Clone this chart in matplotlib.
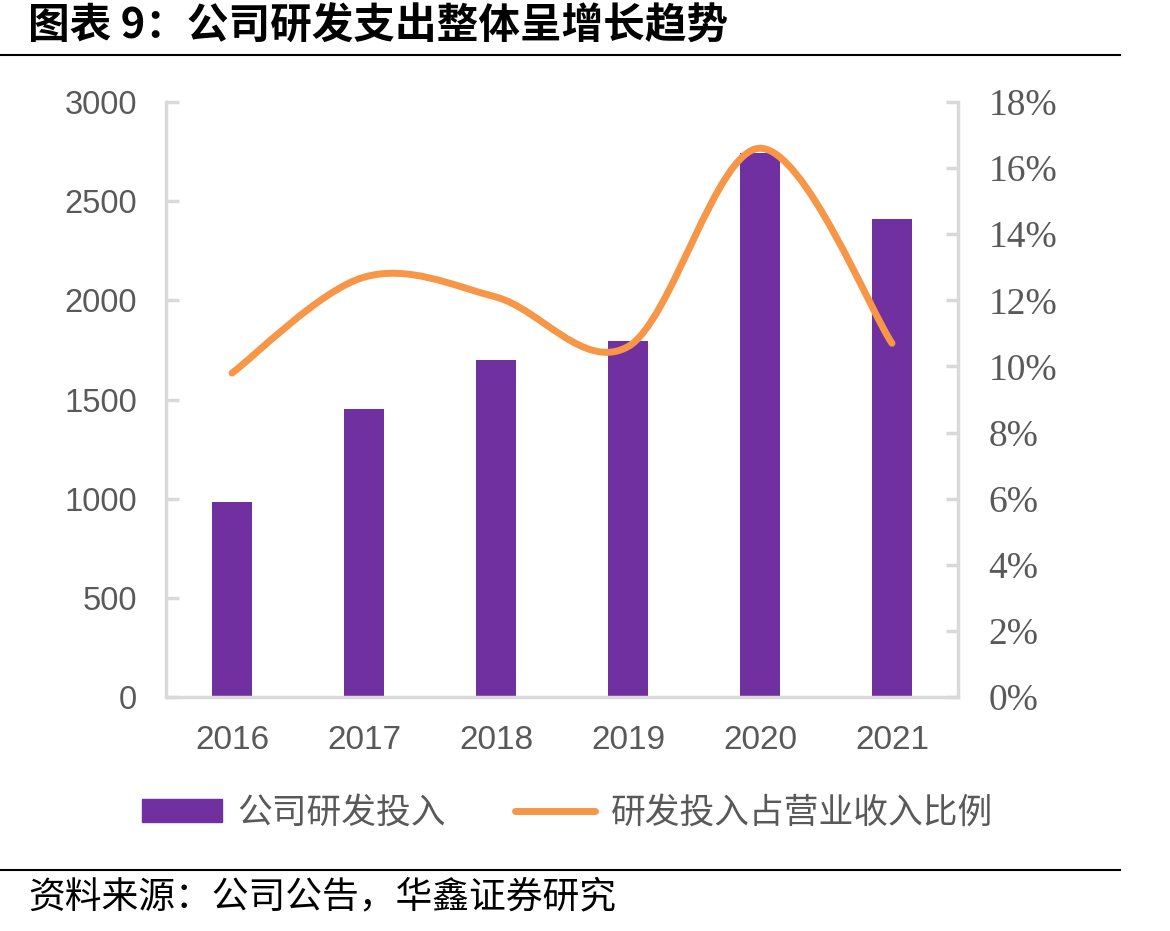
import numpy as np
import matplotlib.pyplot as plt
from matplotlib.path import Path
from matplotlib.patches import PathPatch
from matplotlib.lines import Line2D
from matplotlib.patches import Rectangle
import matplotlib.ticker as mticker

plt.rcParams['font.family'] = ['Noto Sans CJK SC', 'DejaVu Sans']

years = ['2016', '2017', '2018', '2019', '2020', '2021']
rd_spend = [985, 1450, 1700, 1795, 2745, 2410]
rd_ratio = [9.8, 12.7, 12.1, 10.6, 16.6, 10.7]

purple = '#7030A0'
orange = '#F79646'
grey_axis = '#D9D9D9'
grey_text = '#595959'

fig = plt.figure(figsize=(11.7, 9.31), dpi=100)
ax = fig.add_axes([166 / 1170, 1 - 697 / 931, (958 - 166) / 1170, (697 - 102) / 931])
ax2 = ax.twinx()

x = np.arange(len(years))
ax.bar(x, rd_spend, width=0.31, color=purple, zorder=2)
ax.set_xlim(-0.5, len(years) - 0.5)
ax.set_ylim(0, 3000)
ax.set_yticks(np.arange(0, 3001, 500))
ax.set_xticks(x)
ax.set_xticklabels(years)

# smoothed line (Excel-like cubic Bezier through the points)
pts = np.column_stack([x, rd_ratio]).astype(float)
verts = [tuple(pts[0])]
codes = [Path.MOVETO]
n = len(pts)
for i in range(n - 1):
    p0 = pts[i - 1] if i > 0 else pts[i]
    p1 = pts[i]
    p2 = pts[i + 1]
    p3 = pts[i + 2] if i + 2 < n else pts[i + 1]
    c1 = p1 + (p2 - p0) / 6
    c2 = p2 - (p3 - p1) / 6
    verts += [tuple(c1), tuple(c2), tuple(p2)]
    codes += [Path.CURVE4] * 3
ax2.add_patch(PathPatch(Path(verts, codes), facecolor='none', edgecolor=orange,
                        lw=5, capstyle='round', joinstyle='round', zorder=3))
ax2.set_ylim(0, 18)
ax2.set_yticks(np.arange(0, 19, 2))
ax2.yaxis.set_major_formatter(mticker.FuncFormatter(lambda v, p: f'{v:.0f}%'))

for a in (ax, ax2):
    for s in a.spines.values():
        s.set_visible(False)
ax.spines['left'].set_visible(True)
ax.spines['bottom'].set_visible(True)
ax2.spines['right'].set_visible(True)
for s in (ax.spines['left'], ax.spines['bottom'], ax2.spines['right']):
    s.set_color(grey_axis)
    s.set_linewidth(2.5)

ax.tick_params(axis='y', direction='in', length=9, width=2.5, color=grey_axis,
               labelsize=23.5, labelcolor=grey_text, pad=21)
ax.tick_params(axis='x', length=0, labelsize=24, labelcolor=grey_text, pad=20)
ax2.tick_params(axis='y', direction='in', length=9, width=2.5, color=grey_axis,
                labelsize=27, labelcolor=grey_text, pad=22)
for lab in ax.get_yticklabels() + ax.get_xticklabels():
    lab.set_family(['Liberation Sans Narrow', 'Liberation Sans', 'DejaVu Sans'])
for lab in ax2.get_yticklabels():
    lab.set_family(['Liberation Serif', 'DejaVu Serif'])

# legend
handles = [Rectangle((0, 0), 1, 1, color=purple),
           Line2D([0], [0], color=orange, lw=5, solid_capstyle='round')]
fig.legend(handles, ['公司研发投入', '研发投入占营业收入比例'], loc='center',
           bbox_to_anchor=(0.485, 1 - 813 / 931), ncol=2, frameon=False,
           fontsize=25, labelcolor=grey_text, handlelength=2.3, handleheight=0.65,
           columnspacing=2.0, handletextpad=0.45)

# title and source
fig.text(28 / 1170, 1 - 27 / 931, '图表 9：公司研发支出整体呈增长趋势', fontsize=30,
         fontweight='bold', va='center', ha='left', color='black')
fig.add_artist(Line2D([0, 1120 / 1170], [1 - 55 / 931] * 2, color='black', lw=1.5))
fig.add_artist(Line2D([0, 1120 / 1170], [1 - 870 / 931] * 2, color='black', lw=1.5))
fig.text(28 / 1170, 1 - 897 / 931, '资料来源：公司公告，华鑫证券研究', fontsize=26.5,
         va='center', ha='left', color='black')

fig.savefig('out.png', dpi=100)
